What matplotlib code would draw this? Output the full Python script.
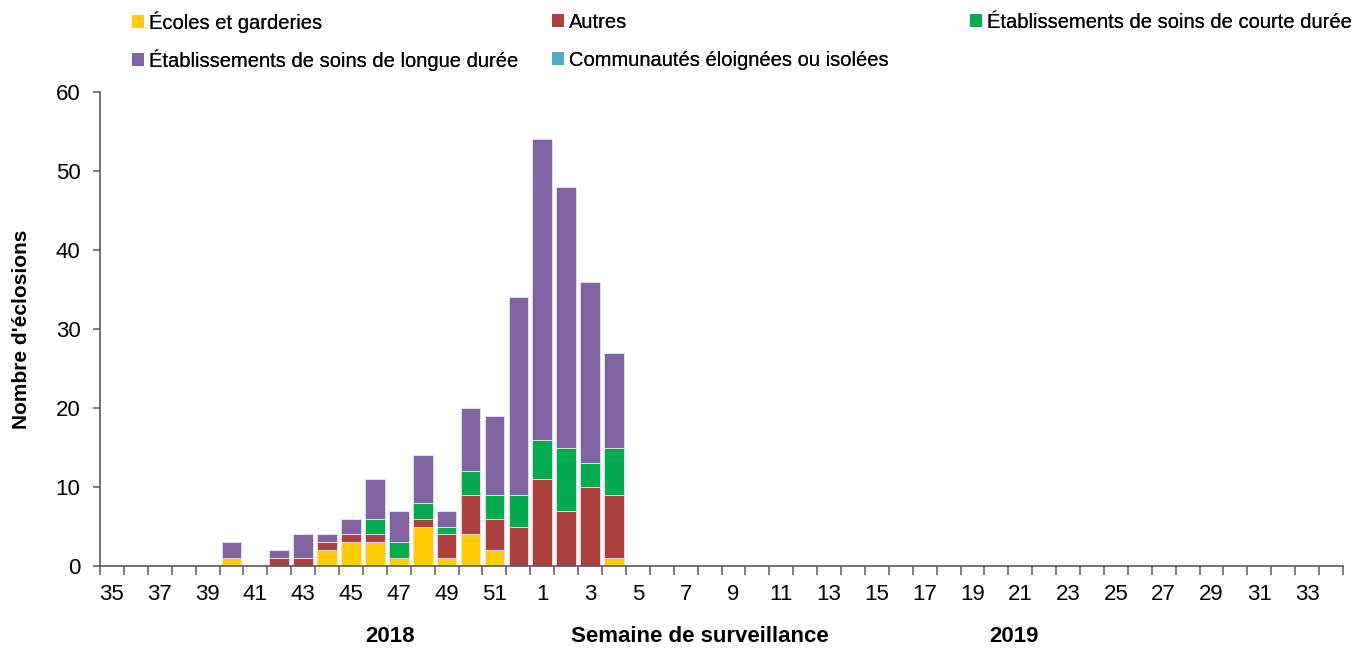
import matplotlib
matplotlib.use("Agg")
import matplotlib.pyplot as plt
from matplotlib.patches import Patch
import numpy as np

plt.rcParams['font.family'] = ['Liberation Sans', 'DejaVu Sans']

weeks = [str(w) for w in range(35, 53)] + [str(w) for w in range(1, 35)]
ecoles = [0,0,0,0,0,1,0,0,0,2,3,3,1,5,1,4,2,0, 0,0,0,1] + [0]*30
autres = [0,0,0,0,0,0,0,1,1,1,1,1,0,1,3,5,4,5, 11,7,10,8] + [0]*30
courte = [0,0,0,0,0,0,0,0,0,0,0,2,2,2,1,3,3,4, 5,8,3,6] + [0]*30
longue = [0,0,0,0,0,2,0,1,3,1,2,5,4,6,2,8,10,25, 38,33,23,12] + [0]*30
communautes = [0]*52

series = [
    ("Écoles et garderies", ecoles, "#FFCC00"),
    ("Autres", autres, "#AE403D"),
    ("Établissements de soins de courte durée", courte, "#00AC4E"),
    ("Établissements de soins de longue durée", longue, "#8064A2"),
    ("Communautés éloignées ou isolées", communautes, "#4BACC6"),
]

W, H = 1363, 650
fig = plt.figure(figsize=(W / 100, H / 100), dpi=100)
ax = fig.add_axes([100 / W, 1 - 566 / H, 1243 / W, 474 / H])

x = np.arange(len(weeks))
bottom = np.zeros(len(weeks))
for name, vals, col in series:
    v = np.array(vals, dtype=float)
    ax.bar(x, v, 0.82, bottom=bottom, color=col, edgecolor="#e8e0f0", linewidth=0.6, label=name)
    bottom += v

ax.set_xlim(-0.5, len(weeks) - 0.5)
ax.set_ylim(0, 60)
ax.set_yticks(range(0, 61, 10))
ax.set_xticks(x[::2])
ax.set_xticklabels(weeks[::2])
ax.set_xticks(np.arange(-0.5, len(weeks), 1), minor=True)
ax.tick_params(axis='x', which='major', length=0, labelsize=16, pad=13)
ax.tick_params(axis='x', which='minor', length=6.5, direction='out', color='#595959', width=1.1)
ax.tick_params(axis='y', length=5, direction='out', labelsize=16, color='#595959', width=1.1, pad=9)
for s in ['top', 'right']:
    ax.spines[s].set_visible(False)
for s in ['left', 'bottom']:
    ax.spines[s].set_color('#595959')
    ax.spines[s].set_linewidth(1.2)

ax.set_ylabel("Nombre d'éclosions", fontsize=15, fontweight='bold')
ax.yaxis.set_label_coords((31 - 100) / 1243, (566 - 329) / 474)

fig.text(390 / W, 1 - 636 / H, "2018", ha='center', va='center', fontsize=16, fontweight='bold')
fig.text(700 / W, 1 - 636 / H, "Semaine de surveillance", ha='center', va='center', fontsize=16, fontweight='bold')
fig.text(1014 / W, 1 - 636 / H, "2019", ha='center', va='center', fontsize=16, fontweight='bold')

cols = {s[0]: s[2] for s in series}
entries = [
    ("Écoles et garderies", 132, 22),
    ("Autres", 552, 22),
    ("Établissements de soins de courte durée", 970, 22),
    ("Établissements de soins de longue durée", 132, 60),
    ("Communautés éloignées ou isolées", 552, 60),
]
for name, xpos, ypos in entries:
    leg = fig.legend([Patch(facecolor=cols[name], edgecolor='none')], [name],
                     loc='center left', bbox_to_anchor=(xpos / W, 1 - ypos / H),
                     frameon=False, fontsize=14.5, handlelength=0.6, handleheight=0.6,
                     handletextpad=0.25, borderaxespad=0.0, borderpad=0.0)
    fig.add_artist(leg)

fig.savefig("out.png", dpi=100)
